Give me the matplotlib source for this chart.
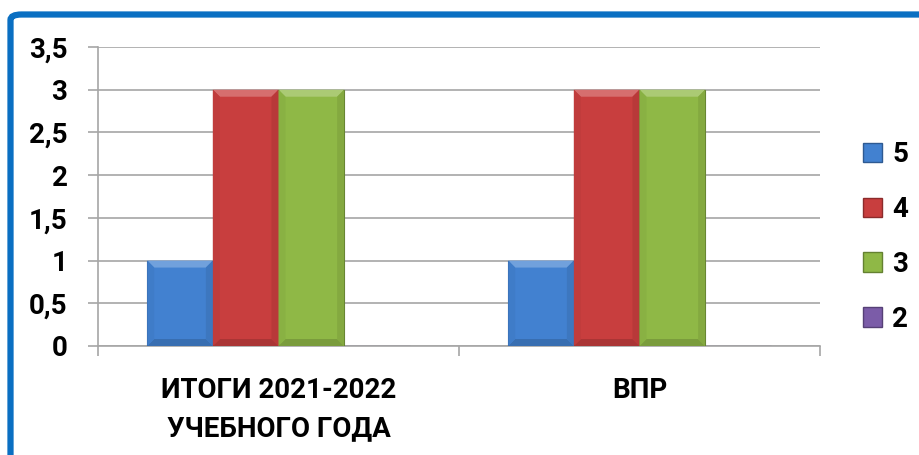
import matplotlib
matplotlib.use("Agg")
import matplotlib.pyplot as plt
from matplotlib.patches import FancyBboxPatch, Patch, Polygon
import matplotlib.colors as mcolors
import numpy as np

categories = ["ИТОГИ 2021-2022\nУЧЕБНОГО ГОДА", "ВПР"]
series_names = ["5", "4", "3", "2"]
values = {
    "5": [1, 1],
    "4": [3, 3],
    "3": [3, 3],
    "2": [0, 0],
}
colors = {"5": "#4281D0", "4": "#C83E3E", "3": "#8FB846", "2": "#7B5CA8"}
yticks = [0, 0.5, 1, 1.5, 2, 2.5, 3, 3.5]
ytick_labels = ["0", "0,5", "1", "1,5", "2", "2,5", "3", "3,5"]

plt.rcParams["font.family"] = ["Roboto", "DejaVu Sans"]


def shade(c, f):
    r, g, b = mcolors.to_rgb(c)
    if f > 0:
        return (r + (1 - r) * f, g + (1 - g) * f, b + (1 - b) * f)
    return (r * (1 + f), g * (1 + f), b * (1 + f))


W, H = 919, 455
fig = plt.figure(figsize=(W / 100, H / 100), dpi=100)
ax = fig.add_axes([98 / W, 109 / H, (820 - 98) / W, (346 - 47) / H])

# outer blue frame
frame = FancyBboxPatch((10.5 / W, -0.2), 1.2, 1.2 - 14.5 / H,
                       boxstyle="round,pad=0,rounding_size=0.012",
                       transform=fig.transFigure, fill=False,
                       edgecolor="#0A6FC2", linewidth=4.5, zorder=0)
fig.patches.append(frame)

x = np.arange(len(categories))
w = 1 / 5.5
bx = 7 * 2 / 722      # bevel size, about 7 px
by = 7 * 3.5 / 299
for i, s in enumerate(series_names):
    xs = x + (i - 1.5) * w
    ax.bar(xs, values[s], width=w, color=colors[s],
           edgecolor=shade(colors[s], -0.3), linewidth=0.8, zorder=3)
    for xc, v in zip(xs, values[s]):
        if v <= 0:
            continue
        x0, x1 = xc - w / 2, xc + w / 2
        ax.add_patch(Polygon([(x0, v), (x1, v), (x1 - bx, v - by), (x0 + bx, v - by)],
                             closed=True, color=shade(colors[s], 0.25), lw=0, zorder=4))
        ax.add_patch(Polygon([(x0, 0), (x1, 0), (x1 - bx, by), (x0 + bx, by)],
                             closed=True, color=shade(colors[s], -0.15), lw=0, zorder=4))
        ax.add_patch(Polygon([(x1, 0), (x1, v), (x1 - bx, v - by), (x1 - bx, by)],
                             closed=True, color=shade(colors[s], -0.08), lw=0, zorder=4))
        ax.add_patch(Polygon([(x0, 0), (x0, v), (x0 + bx, v - by), (x0 + bx, by)],
                             closed=True, color=shade(colors[s], -0.04), lw=0, zorder=4))

ax.set_xlim(-0.5, 1.5)
ax.set_ylim(0, 3.5)
ax.set_yticks(yticks)
ax.set_yticklabels(ytick_labels, fontsize=20, fontweight="bold")
ax.grid(axis="y", color="#A6A6A6", linewidth=1.2, zorder=0)
ax.set_axisbelow(True)
for sp in ["top", "right"]:
    ax.spines[sp].set_visible(False)
for sp in ["left", "bottom"]:
    ax.spines[sp].set_color("#A6A6A6")
    ax.spines[sp].set_linewidth(1.2)
ax.tick_params(axis="y", length=7, color="#A6A6A6", width=1.2, pad=15)

ax.set_xticks(x)
ax.set_xticklabels(categories, fontsize=20, fontweight="bold", linespacing=1.55)
ax.tick_params(axis="x", which="major", length=0, pad=22)
ax.set_xticks([-0.5, 0.5, 1.5], minor=True)
ax.tick_params(axis="x", which="minor", length=7, color="#A6A6A6", width=1.2)

handles = [Patch(facecolor=colors[s], edgecolor=shade(colors[s], -0.3)) for s in series_names]
fig.legend(handles, series_names, loc="center left",
           bbox_to_anchor=(838 / W, 1 - 237 / H), frameon=False,
           prop={"size": 20, "weight": "bold"}, handlelength=0.7,
           handleheight=0.7, handletextpad=0.35, labelspacing=1.0)

fig.savefig("out.png", dpi=100)
